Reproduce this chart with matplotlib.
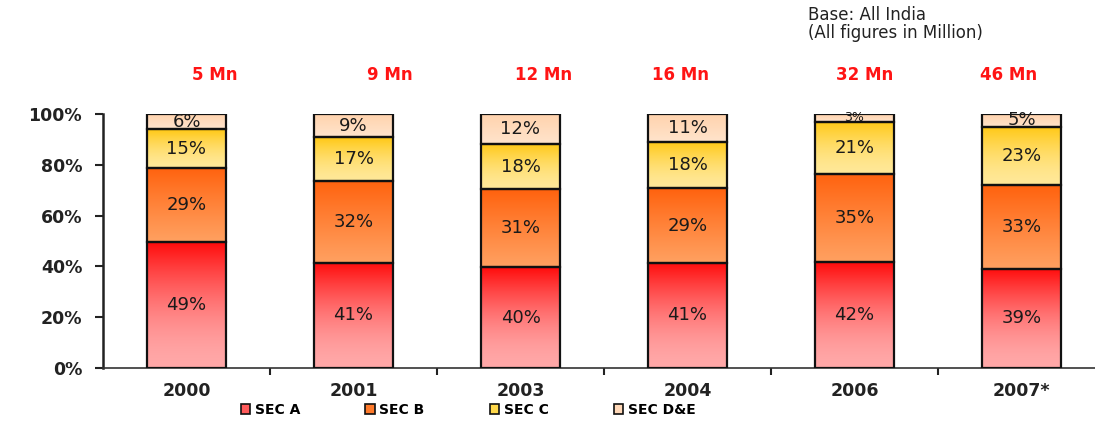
import numpy as np
import matplotlib
matplotlib.use("Agg")
import matplotlib.pyplot as plt
from matplotlib.patches import Rectangle, Patch
from matplotlib.colors import to_rgb

# Socio-economic class split of the base, by year
years = ["2000", "2001", "2003", "2004", "2006", "2007*"]
totals_mn = ["5 Mn", "9 Mn", "12 Mn", "16 Mn", "32 Mn", "46 Mn"]
segments = ["SEC A", "SEC B", "SEC C", "SEC D&E"]
sec_a = [49, 41, 40, 41, 42, 39]
sec_b = [29, 32, 31, 29, 35, 33]
sec_c = [15, 17, 18, 18, 21, 23]
sec_de = [6, 9, 12, 11, 3, 5]

# (top colour, bottom colour, curve) of each segment's vertical gradient
gradients = [
    ("#FF0C0C", "#FFA8A8", 1.7),
    ("#FF620E", "#FFA060", 1.1),
    ("#FFC814", "#FFE898", 1.6),
    ("#FFD2AC", "#FFE4CC", 1.0),
]
legend_colors = ["#FF5A5A", "#FF7A2A", "#FFD84A", "#FFD8B8"]
# horizontal nudge of the totals row, in category units
total_shift = [0.17, 0.22, 0.14, -0.04, 0.06, -0.08]

W, H = 1095, 422
fig = plt.figure(figsize=(W / 100, H / 100), dpi=100)
ax = fig.add_axes([103 / W, 54 / H, 1002 / W, 254 / H])

values = np.array([sec_a, sec_b, sec_c, sec_de], dtype=float)
shares = values / values.sum(axis=0) * 100  # 100% stacked
x = np.arange(len(years))
bar_w = 0.47


def gradient_image(top, bottom, gamma, n=96):
    t = np.linspace(0, 1, n)[:, None] ** gamma
    c0, c1 = np.array(to_rgb(bottom)), np.array(to_rgb(top))
    return (c0 + (c1 - c0) * t)[:, None, :]


bottoms = np.zeros(len(years))
for k, name in enumerate(segments):
    top_c, bot_c, gamma = gradients[k]
    img = gradient_image(top_c, bot_c, gamma)
    for i in range(len(years)):
        b, h = bottoms[i], shares[k, i]
        x0 = x[i] - bar_w / 2
        ax.imshow(img, extent=[x0, x0 + bar_w, b, b + h], origin="lower",
                  aspect="auto", interpolation="bilinear", zorder=2)
        rect = Rectangle((x0, b), bar_w, h, facecolor="none",
                         edgecolor="#111111", linewidth=1.6, zorder=3)
        ax.add_patch(rect)
        fs = 13 if h > 4 else 9
        ax.text(x[i], b + h / 2, f"{int(values[k, i])}%", ha="center",
                va="center", fontsize=fs, color="#1a1a1a", zorder=4)
    bottoms += shares[k]

ax.set_xlim(-0.5, len(years) - 0.5)
ax.set_ylim(0, 100)

ax.set_yticks(np.arange(0, 101, 20))
ax.set_yticklabels([f"{v}%" for v in range(0, 101, 20)], fontsize=12.5,
                   fontweight="bold", color="#222222")
ax.tick_params(axis="y", direction="out", length=6, width=1.5, pad=9,
               color="#222222")

ax.set_xticks(x)
ax.set_xticklabels(years, fontsize=12.5, fontweight="bold", color="#222222")
ax.tick_params(axis="x", which="major", length=0, pad=10)
ax.set_xticks(x[:-1] + 0.5, minor=True)
ax.tick_params(axis="x", which="minor", direction="out", length=5,
               width=1.5, color="#222222")

for side in ("top", "right"):
    ax.spines[side].set_visible(False)
ax.spines["left"].set_linewidth(1.8)
ax.spines["left"].set_color("#222222")
ax.spines["bottom"].set_linewidth(1.2)
ax.spines["bottom"].set_color("#333333")

# totals above each bar
for i, label in enumerate(totals_mn):
    ax.text(x[i] + total_shift[i], 1.155, label, transform=ax.get_xaxis_transform(),
            ha="center", va="center", fontsize=12, fontweight="bold",
            color="#FF1414", clip_on=False)

fig.text(808 / W, 1 - 24 / H, "Base: All India\n(All figures in Million)",
         ha="left", va="center", fontsize=12, color="#222222",
         linespacing=1.05)

handles = [Patch(facecolor=c, edgecolor="#111111", linewidth=1.2)
           for c in legend_colors]
fig.legend(handles, segments, loc="center", bbox_to_anchor=(468 / W, 1 - 410 / H),
           ncol=4, frameon=False, handlelength=0.7, handleheight=0.7,
           handletextpad=0.3, columnspacing=4.7,
           prop={"size": 10, "weight": "bold"})

fig.savefig("out.png", dpi=100)
